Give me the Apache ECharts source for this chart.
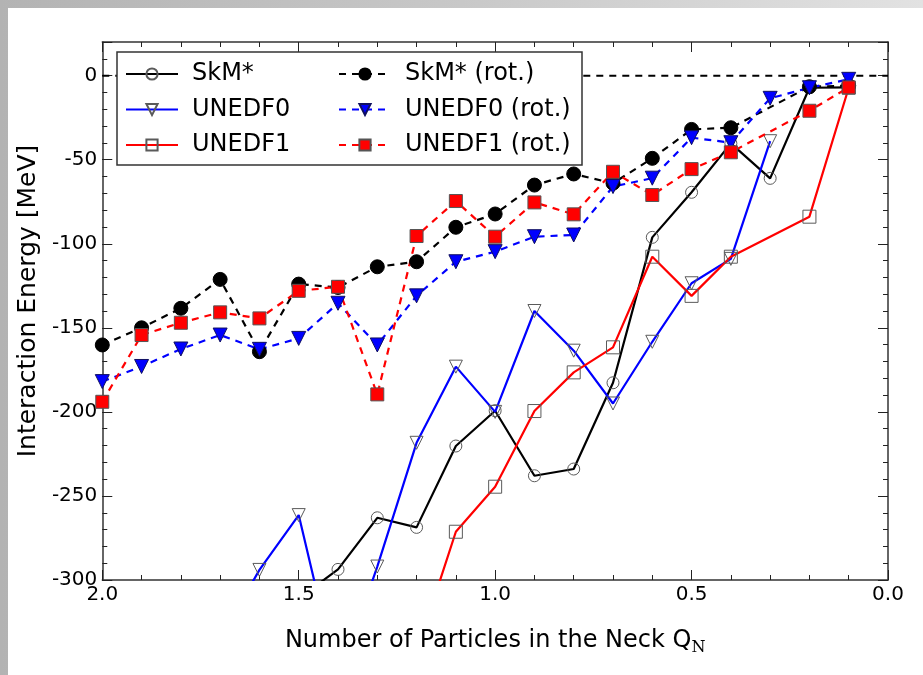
<!DOCTYPE html>
<html>
<head>
<meta charset="utf-8">
<script src="https://cdn.jsdelivr.net/npm/echarts@6/dist/echarts.min.js"></script>
<style>
  html, body { margin: 0; padding: 0; }
  body {
    width: 923px; height: 675px; overflow: hidden;
    background: linear-gradient(to right, #b3b3b3 0%, #c8c8c8 50%, #e2e2e2 100%);
  }
  #chart {
    position: absolute; left: 8px; top: 8px;
    width: 915px; height: 667px; background: #ffffff;
  }
</style>
</head>
<body>
<div id="chart"></div>
<script>
// Neck particle number Q_N (x) and interaction energies in MeV (y)
const neckQ = [2.0, 1.9, 1.8, 1.7, 1.6, 1.5, 1.4, 1.3, 1.2, 1.1, 1.0, 0.9, 0.8, 0.7, 0.6, 0.5, 0.4, 0.3, 0.2, 0.1];

const skm       = [null, null, null, null, null, -311, -293.7, -263, -268.7, -220.3, -199.3, -238, -234, -182.7, -96.2, -69.4, -40.3, -61.1, -7.2, -7];
const unedf0    = [null, null, null, -335, -294, -261.4, -360, -292, -218.4, -173.1, -200, -140, -163.6, -195, -158.3, -123.5, -109, -39, null, null];
const unedf1    = [null, null, null, null, null, null, null, null, -343, -271.3, -244.5, -199.5, -176.5, -161.6, -107.7, -131, -107.7, null, -83.9, -7.2];
const skmRot    = [-160.2, -150, -138.4, -121.2, -164.2, -124, -126, -113.7, -110.7, -90.2, -82.3, -65.1, -58.5, -64, -49.2, -32, -31, null, -6.6, -6];
const unedf0Rot = [-182, -173, -162.6, -154.3, -162.8, -156.3, -135.4, -160.2, -131, -110.7, -104.7, -95.8, -94.8, -66, -61, -36.9, -39.9, -13.5, -7.2, -2.2];
const unedf1Rot = [-194, -154.3, -147, -140.8, -144.4, -128, -125.6, -189.6, -95.4, -74.6, -95.8, -75.4, -82.5, -57.2, -71, -55.6, -45.6, null, -20.9, -7];

const xTickStep = 0.5;
const yTickStep = 50;
const yMinorStep = 10;

const FONT = 'DejaVu Sans';
const DOWN_TRI = 'path://M0,0L20,0L10,20Z';

const pairs = vals => neckQ.map((q, i) => [q, vals[i]]);

function solid(name, vals, color, symbol) {
  return {
    name, type: 'line', data: pairs(vals), connectNulls: true, clip: true,
    symbol, symbolSize: symbol === 'circle' ? 12 : 13,
    lineStyle: { color, width: 2.2, type: 'solid' },
    itemStyle: { color: 'transparent', borderColor: '#5a5a5a', borderWidth: 1 },
    emphasis: { disabled: true }, z: 2
  };
}
function rotated(name, vals, color, edge, symbol) {
  return {
    name, type: 'line', data: pairs(vals), connectNulls: true, clip: true,
    symbol, symbolSize: symbol === 'rect' ? 13 : 14,
    lineStyle: { color, width: 2.2, type: [7, 6] },
    itemStyle: { color, borderColor: edge, borderWidth: 1 },
    emphasis: { disabled: true }, z: 3
  };
}

const tickCommon = { inside: true, lineStyle: { color: '#222', width: 1 } };
const lineCommon = { show: true, onZero: false, lineStyle: { color: '#333', width: 1.5 } };
const noLine = { show: false, onZero: false };

const legendCommon = {
  orient: 'vertical', top: 53, padding: 0,
  itemWidth: 52, itemHeight: 14, itemGap: 9.5,
  selectedMode: false, z: 12,
  lineStyle: { width: 2 },
  textStyle: { color: '#000', fontFamily: FONT, fontSize: 24, lineHeight: 26, padding: [0, 0, 0, 9] }
};

const chart = echarts.init(document.getElementById('chart'), null, { renderer: 'canvas' });
chart.setOption({
  animation: false,
  backgroundColor: '#ffffff',
  grid: { left: 92, right: 35, top: 34, bottom: 95, containLabel: false },
  xAxis: [
    {
      type: 'value', position: 'bottom', inverse: true, min: 0, max: 2, interval: xTickStep,
      axisLine: lineCommon,
      axisTick: Object.assign({ length: 10 }, tickCommon),
      minorTick: { show: true, splitNumber: 5, length: 5, lineStyle: { color: '#222', width: 1 } },
      splitLine: { show: false },
      axisLabel: { margin: 5, color: '#000', fontFamily: FONT, fontSize: 20, formatter: v => v.toFixed(1) },
      name: 'Number of Particles in the Neck Q{sub|N}',
      nameLocation: 'middle', nameGap: 46,
      nameTextStyle: {
        color: '#000', fontFamily: FONT, fontSize: 24,
        rich: { sub: { fontFamily: 'DejaVu Serif', fontSize: 16, color: '#000', padding: [14, 0, 0, 0] } }
      }
    },
    {
      type: 'value', position: 'top', inverse: true, min: 0, max: 2, interval: xTickStep,
      axisLine: lineCommon,
      axisTick: Object.assign({ length: 10 }, tickCommon),
      minorTick: { show: true, splitNumber: 5, length: 5, lineStyle: { color: '#222', width: 1 } },
      splitLine: { show: false }, axisLabel: { show: false }
    }
  ],
  yAxis: [
    {
      type: 'value', position: 'left', min: -300, max: 20, interval: yTickStep,
      axisLine: lineCommon,
      axisTick: Object.assign({ length: 10 }, tickCommon),
      splitLine: { show: false },
      axisLabel: {
        margin: 5, color: '#000', fontFamily: FONT, fontSize: 20,
        formatter: v => (v > 0 ? '' : String(v))
      },
      name: 'Interaction Energy [MeV]',
      nameLocation: 'middle', nameGap: 60, nameRotate: 90,
      nameTextStyle: { color: '#000', fontFamily: FONT, fontSize: 25, padding: [0, 0, 0, 20] }
    },
    {
      type: 'value', position: 'left', min: -300, max: 20, interval: yMinorStep,
      axisLine: noLine,
      axisTick: Object.assign({ length: 5 }, tickCommon),
      splitLine: { show: false }, axisLabel: { show: false }
    },
    {
      type: 'value', position: 'right', min: -300, max: 20, interval: yTickStep,
      axisLine: lineCommon,
      axisTick: Object.assign({ length: 10 }, tickCommon),
      splitLine: { show: false }, axisLabel: { show: false }
    },
    {
      type: 'value', position: 'right', min: -300, max: 20, interval: yMinorStep,
      axisLine: noLine,
      axisTick: Object.assign({ length: 5 }, tickCommon),
      splitLine: { show: false }, axisLabel: { show: false }
    }
  ],
  legend: [
    Object.assign({ data: ['SkM*', 'UNEDF0', 'UNEDF1'], left: 117 }, legendCommon),
    Object.assign({ data: ['SkM* (rot.)', 'UNEDF0 (rot.)', 'UNEDF1 (rot.)'], left: 330 }, legendCommon)
  ],
  graphic: [
    {
      type: 'rect', z: 10, silent: true,
      shape: { x: 109, y: 44, width: 465, height: 113 },
      style: { fill: '#ffffff', stroke: '#333', lineWidth: 1.5 }
    }
  ],
  series: [
    {
      name: 'zero', type: 'line', data: [[2, 0], [0, 0]], symbol: 'none',
      lineStyle: { color: '#000', width: 2, type: [7, 6] }, silent: true, z: 1
    },
    solid('SkM*', skm, '#000000', 'circle'),
    solid('UNEDF0', unedf0, '#0000ff', DOWN_TRI),
    solid('UNEDF1', unedf1, '#ff0000', 'rect'),
    rotated('SkM* (rot.)', skmRot, '#000000', '#000000', 'circle'),
    rotated('UNEDF0 (rot.)', unedf0Rot, '#0000ff', '#101060', DOWN_TRI),
    rotated('UNEDF1 (rot.)', unedf1Rot, '#ff0000', '#555555', 'rect')
  ]
});
</script>
</body>
</html>
